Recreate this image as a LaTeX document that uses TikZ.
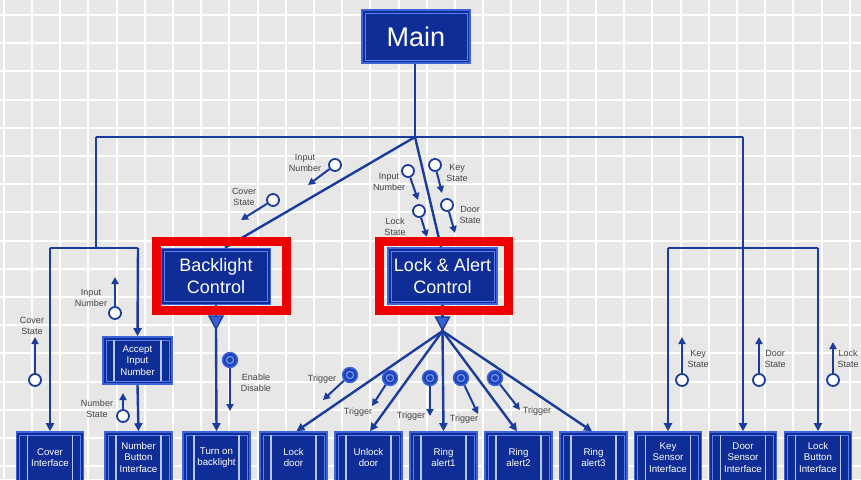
\documentclass[tikz,border=0pt]{standalone}
\usepackage{fontspec}
\setmainfont{Liberation Sans}
\usetikzlibrary{arrows.meta,calc}
\definecolor{bg}{HTML}{E7E7E7}
\definecolor{wireblue}{HTML}{1A3C9E}
\definecolor{boxblue}{HTML}{0F2D96}
\definecolor{boxedge}{HTML}{3F63D8}
\definecolor{innerln}{HTML}{5C80EE}
\definecolor{barln}{HTML}{B4C6FF}
\definecolor{labelgray}{HTML}{444444}
\definecolor{flagblue}{HTML}{1D45B8}
\definecolor{ringblue}{HTML}{7A98F4}
\definecolor{hired}{HTML}{EE0000}
\definecolor{trifill}{HTML}{3A5FD0}
\tikzset{
  gridln/.style={white, line width=2pt},
  wire/.style={draw=wireblue, line width=2.4pt},
  arr/.style={wire, -{Triangle[length=8pt,width=8pt]}},
  dcarr/.style={draw=wireblue, line width=2pt, -{Triangle[length=7pt,width=7pt]}},
  dc/.style={circle, draw=wireblue, fill=white, line width=1.8pt, minimum size=12pt, inner sep=0pt},
  cf/.style={circle, draw=boxedge, fill=flagblue, line width=1.4pt, minimum size=15pt, inner sep=0pt,
    path picture={\draw[ringblue, line width=1.1pt] (path picture bounding box.center) circle[radius=3.6pt];}},
  lbl/.style={font=\fontsize{9}{10.7}\selectfont, text=labelgray, align=center, inner sep=0pt},
  boxbase/.style={rectangle, draw=boxedge, line width=1.6pt, fill=boxblue, inner sep=0pt, text=white, align=center,
    path picture={\draw[innerln, line width=0.8pt] ([shift={(3pt,-3pt)}]path picture bounding box.north west) rectangle ([shift={(-3pt,3pt)}]path picture bounding box.south east);}},
  mod/.style={boxbase, minimum width=67pt, minimum height=51pt, font=\fontsize{9.7}{11.6}\selectfont,
    postaction={path picture={
      \draw[barln, line width=1.6pt] ([shift={(11pt,-3pt)}]path picture bounding box.north west) -- ([shift={(11pt,3pt)}]path picture bounding box.south west);
      \draw[barln, line width=1.6pt] ([shift={(-11pt,-3pt)}]path picture bounding box.north east) -- ([shift={(-11pt,3pt)}]path picture bounding box.south east);}}},
  ctrl/.style={boxbase, minimum width=109pt, minimum height=56pt, font=\fontsize{18}{22}\selectfont},
  mainbox/.style={boxbase, line width=2pt, minimum width=108pt, minimum height=53pt, font=\fontsize{27}{30}\selectfont},
  redframe/.style={draw=hired, line width=9pt},
  tri/.style={draw=wireblue, fill=trifill, line width=1.4pt, line join=miter},
}
\begin{document}
\begin{tikzpicture}[x=1pt,y=-1pt]
\useasboundingbox (0,0) rectangle (861,479);
\fill[bg] (0,0) rectangle (861,479);
\foreach \i in {-1,...,30} {\draw[gridln] ({32+28.2*\i},0) -- ({32+28.2*\i},479);}
\foreach \j in {0,...,17} {\draw[gridln] (0,{15+28.2*\j}) -- (861,{15+28.2*\j});}

% main and control boxes
\node[mainbox] (main) at (416,36.5) {Main};
\node[ctrl] (bl) at (216,276.5) {Backlight\\Control};
\node[ctrl] (la) at (442.5,276) {Lock \& Alert\\Control};

% module boxes
\node[mod, minimum width=69pt, minimum height=47pt] (accept) at (137.5,360.5) {Accept\\Input\\Number};
\node[mod] (cover)    at (50,457.5)    {Cover\\Interface};
\node[mod] (numbtn)   at (138.5,457.5) {Number\\Button\\Interface};
\node[mod] (turnon)   at (216.5,457.5) {Turn on\\backlight};
\node[mod] (lockdoor) at (293.5,457.5) {Lock\\door};
\node[mod] (unlock)   at (368.5,457.5) {Unlock\\door};
\node[mod] (ring1)    at (443.5,457.5) {Ring\\alert1};
\node[mod] (ring2)    at (518.5,457.5) {Ring\\alert2};
\node[mod] (ring3)    at (593.5,457.5) {Ring\\alert3};
\node[mod] (keys)     at (668,457.5)   {Key\\Sensor\\Interface};
\node[mod] (doors)    at (743,457.5)   {Door\\Sensor\\Interface};
\node[mod] (lockbtn)  at (818,457.5)   {Lock\\Button\\Interface};

% junction coordinates
\coordinate (J) at (415,137);
\coordinate (BL) at (96,137);
\coordinate (BR) at (743,137);
\coordinate (LS) at (96,248);
\coordinate (LL) at (50,248);
\coordinate (LR) at (138,248);
\coordinate (RS) at (743,248);
\coordinate (RL) at (668,248);
\coordinate (RR) at (818,248);
\coordinate (F) at (442.5,331);
\coordinate (TB) at (216,329);

% wires
\draw[wire] (main.south -| J) -- (J);
\draw[wire] (BL) -- (BR);
\draw[wire] (BL) -- (LS);
\draw[wire] (LL) -- (LR);
\draw[arr] (LL) -- (cover.north);
\draw[arr] (LR) -- (accept.north);
\draw[arr] (accept.south) -- (numbtn.north);
\draw[wire] (BR) -- (RS);
\draw[wire] (RL) -- (RR);
\draw[arr] (RL) -- (keys.north);
\draw[arr] (RS) -- (doors.north);
\draw[arr] (RR) -- (lockbtn.north);
\draw[wire] (J) -- ([xshift=9pt]bl.north);
\draw[wire] (J) -- ([xshift=-1.5pt]la.north);
\draw[wire] (bl.south) -- (TB);
\draw[arr] (TB) -- (turnon.north);
\draw[wire] (la.south) -- (F);
\draw[arr] (F) -- ([xshift=3pt]lockdoor.north);
\draw[arr] (F) -- ([xshift=1.5pt]unlock.north);
\draw[arr] (F) -- (ring1.north);
\draw[arr] (F) -- ([xshift=-1.5pt]ring2.north);
\draw[arr] (F) -- ([xshift=-1.5pt]ring3.north);

% red highlight frames
\draw[redframe] (156.5,241.5) rectangle (286.5,310.5);
\draw[redframe] (379.5,241.5) rectangle (508.5,310.5);

% triangles
\draw[tri] (209,316) -- (223,316) -- (216,329) -- cycle;
\draw[tri] (435.5,317) -- (449.5,317) -- (442.5,330) -- cycle;

% data couples (top)
\node[dc] (c1) at (335,165) {};
\draw[dcarr] (c1) -- (308,185);
\node[lbl] (l1) at (305,163) {Input\\Number};
\node[dc] (c2) at (273,200) {};
\draw[dcarr] (c2) -- (241,220);
\node[lbl] (l2) at (244,197) {Cover\\State};
\node[dc] (c3) at (408,171) {};
\draw[dcarr] (c3) -- (418,200);
\node[lbl] (l3) at (389,182) {Input\\Number};
\node[dc] (c4) at (419,211) {};
\draw[dcarr] (c4) -- (427,237);
\node[lbl] (l4) at (395,227) {Lock\\State};
\node[dc] (c5) at (435,165) {};
\draw[dcarr] (c5) -- (442,193);
\node[lbl] (l5) at (457,173) {Key\\State};
\node[dc] (c6) at (447,205) {};
\draw[dcarr] (c6) -- (455,233);
\node[lbl] (l6) at (470,215) {Door\\State};

% data couples (left)
\node[dc] (c7) at (115,313) {};
\draw[dcarr] (c7) -- (115,277);
\node[lbl] (l7) at (91,298) {Input\\Number};
\node[dc] (c8) at (35,380) {};
\draw[dcarr] (c8) -- (35,337);
\node[lbl] (l8) at (32,326) {Cover\\State};
\node[dc] (c9) at (123,416) {};
\draw[dcarr] (c9) -- (123,393);
\node[lbl] (l9) at (97,409) {Number\\State};
\node[cf] (f1) at (230,360) {};
\draw[dcarr] (f1) -- (230,411);
\node[lbl] (l10) at (256,383) {Enable\\Disable};

% triggers
\node[cf] (t1) at (350,375) {};
\draw[dcarr] (t1) -- (323,400);
\node[lbl] (lt1) at (322,379) {Trigger};
\node[cf] (t2) at (390,378) {};
\draw[dcarr] (t2) -- (372,406);
\node[lbl] (lt2) at (358,412) {Trigger};
\node[cf] (t3) at (430,378) {};
\draw[dcarr] (t3) -- (430,416);
\node[lbl] (lt3) at (411,416) {Trigger};
\node[cf] (t4) at (461,378) {};
\draw[dcarr] (t4) -- (478,414);
\node[lbl] (lt4) at (464,419) {Trigger};
\node[cf] (t5) at (495,378) {};
\draw[dcarr] (t5) -- (520,410);
\node[lbl] (lt5) at (537,411) {Trigger};

% data couples (right)
\node[dc] (c10) at (682,380) {};
\draw[dcarr] (c10) -- (682,337);
\node[lbl] (l11) at (698,359) {Key\\State};
\node[dc] (c11) at (759,380) {};
\draw[dcarr] (c11) -- (759,337);
\node[lbl] (l12) at (775,359) {Door\\State};
\node[dc] (c12) at (833,380) {};
\draw[dcarr] (c12) -- (833,342);
\node[lbl] (l13) at (848,359) {Lock\\State};
\end{tikzpicture}
\end{document}
